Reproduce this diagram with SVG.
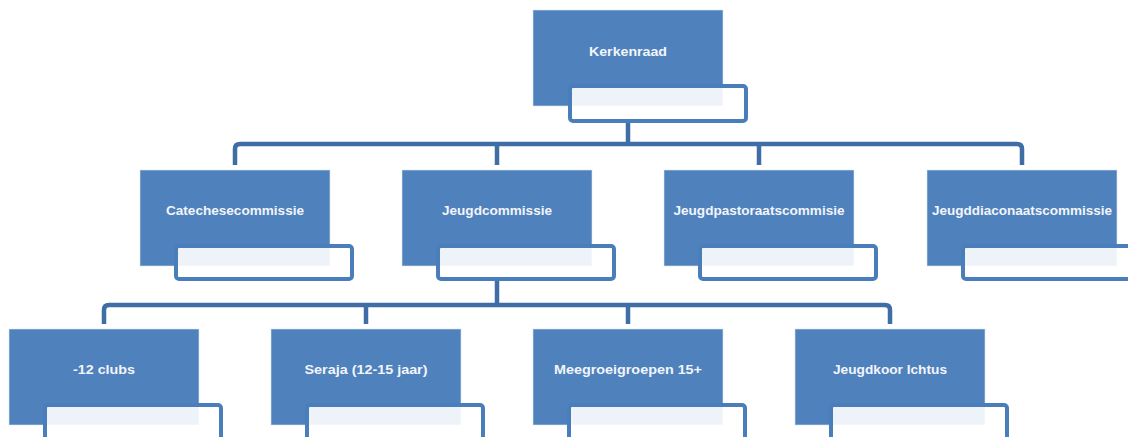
<svg xmlns="http://www.w3.org/2000/svg" width="1128" height="437" viewBox="0 0 1128 437">
<style>
.main{fill:#4F81BD;stroke:#DCE6F2;stroke-opacity:0.6;stroke-width:1}
.sub{fill:#FFFFFF;fill-opacity:0.9;stroke:#4A7EBB;stroke-width:4}
.lbl{font-family:"Liberation Sans",Arial,sans-serif;font-size:13px;font-weight:bold;fill:#F2F5FA;text-anchor:middle}
.con{fill:none;stroke:#3F6DA5;stroke-width:4.5;stroke-linejoin:round}
</style>
<rect width="1128" height="437" fill="#FFFFFF"/>
<g id="connectors">
<path class="con" d="M628,121 V144"/>
<path class="con" d="M235,165 V149 Q235,144 240,144 H1017 Q1022,144 1022,149 V165"/>
<path class="con" d="M497,144 V165"/>
<path class="con" d="M759,144 V165"/>
<path class="con" d="M497,279 V305"/>
<path class="con" d="M104,324 V310 Q104,305 109,305 H885 Q890,305 890,310 V324"/>
<path class="con" d="M366,305 V324"/>
<path class="con" d="M628,305 V324"/>
</g>
<g id="kerkenraad">
<rect class="main" x="533" y="10" width="190" height="96"/>
<rect class="sub" x="570" y="86" width="176" height="35" rx="3"/>
<text class="lbl" x="628" y="56" textLength="78" lengthAdjust="spacingAndGlyphs">Kerkenraad</text>
</g>
<g id="catechesecommissie">
<rect class="main" x="140" y="170" width="190" height="96"/>
<rect class="sub" x="176" y="246" width="176" height="33" rx="3"/>
<text class="lbl" x="235" y="215" textLength="138" lengthAdjust="spacingAndGlyphs">Catechesecommissie</text>
</g>
<g id="jeugdcommissie">
<rect class="main" x="402" y="170" width="190" height="96"/>
<rect class="sub" x="438" y="246" width="176" height="33" rx="3"/>
<text class="lbl" x="497" y="215" textLength="110" lengthAdjust="spacingAndGlyphs">Jeugdcommissie</text>
</g>
<g id="jeugdpastoraatscommisie">
<rect class="main" x="664" y="170" width="190" height="96"/>
<rect class="sub" x="700" y="246" width="176" height="33" rx="3"/>
<text class="lbl" x="759" y="215" textLength="171" lengthAdjust="spacingAndGlyphs">Jeugdpastoraatscommisie</text>
</g>
<g id="jeugddiaconaatscommissie">
<rect class="main" x="927" y="170" width="190" height="96"/>
<rect class="sub" x="963" y="246" width="176" height="33" rx="3"/>
<text class="lbl" x="1022" y="215" textLength="180" lengthAdjust="spacingAndGlyphs">Jeugddiaconaatscommissie</text>
</g>
<g id="clubs">
<rect class="main" x="9" y="329" width="190" height="96"/>
<rect class="sub" x="45" y="405" width="176" height="40" rx="3"/>
<text class="lbl" x="104" y="374" textLength="62" lengthAdjust="spacingAndGlyphs">-12 clubs</text>
</g>
<g id="seraja">
<rect class="main" x="271" y="329" width="190" height="96"/>
<rect class="sub" x="307" y="405" width="176" height="40" rx="3"/>
<text class="lbl" x="366" y="374" textLength="123" lengthAdjust="spacingAndGlyphs">Seraja (12-15 jaar)</text>
</g>
<g id="meegroeigroepen">
<rect class="main" x="533" y="329" width="190" height="96"/>
<rect class="sub" x="569" y="405" width="176" height="40" rx="3"/>
<text class="lbl" x="628" y="374" textLength="148" lengthAdjust="spacingAndGlyphs">Meegroeigroepen 15+</text>
</g>
<g id="jeugdkoor">
<rect class="main" x="795" y="329" width="190" height="96"/>
<rect class="sub" x="831" y="405" width="176" height="40" rx="3"/>
<text class="lbl" x="890" y="374" textLength="114" lengthAdjust="spacingAndGlyphs">Jeugdkoor Ichtus</text>
</g>
</svg>
